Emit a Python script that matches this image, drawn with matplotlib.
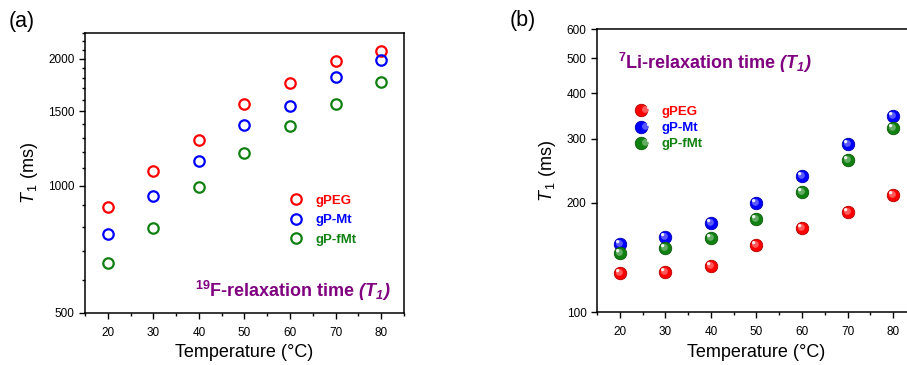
import numpy as np
import matplotlib
matplotlib.use("Agg")
import matplotlib.pyplot as plt
from matplotlib.path import Path
from matplotlib.ticker import FixedLocator, NullFormatter, NullLocator
from matplotlib.legend_handler import HandlerTuple

plt.rcParams['font.family'] = ['Liberation Sans', 'DejaVu Sans']
plt.rcParams['mathtext.fontset'] = 'custom'
plt.rcParams['mathtext.rm'] = 'Liberation Sans'
plt.rcParams['mathtext.it'] = 'Liberation Sans:italic'
plt.rcParams['mathtext.bf'] = 'Liberation Sans:bold'
plt.rcParams['mathtext.bfit'] = 'Liberation Sans:bold:italic'

# data
temp = [20, 30, 40, 50, 60, 70, 80]
series = ["gPEG", "gP-Mt", "gP-fMt"]
colors = ["#ff0000", "#0000ff", "#108010"]

# (a) 19F T1 (ms)
f_gpeg = [892, 1083, 1284, 1564, 1753, 1971, 2086]
f_gpmt = [769, 944, 1148, 1391, 1547, 1811, 1986]
f_gpfmt = [658, 793, 993, 1199, 1386, 1558, 1760]

# (b) 7Li T1 (ms)
li_gpeg = [128.5, 129.4, 134.4, 153.1, 170.6, 188.7, 210.2]
li_gpmt = [153.8, 161.1, 176.4, 199.8, 237.5, 290.3, 345.9]
li_gpfmt = [145.3, 150.0, 160.1, 180.6, 213.8, 261.8, 321.4]

purple = "#800080"


def circle_path(cx, cy, r):
    t = np.linspace(0, 2 * np.pi, 40)
    verts = np.column_stack([cx + r * np.cos(t), cy + r * np.sin(t)])
    return Path(verts, closed=True)


# highlight markers shifted toward upper-left (normalised by matplotlib)
mid_marker = circle_path(-0.12, 0.12, 0.38)
hi_marker = circle_path(-0.33, 0.33, 0.19)


def lighten(c, f):
    rgb = np.array(matplotlib.colors.to_rgb(c))
    return tuple(rgb + (1 - rgb) * f)


def darken(c, f):
    rgb = np.array(matplotlib.colors.to_rgb(c))
    return tuple(rgb * (1 - f))


def style_axes(ax):
    ax.set_yscale('log')
    ax.set_xlim(15, 85)
    ax.xaxis.set_major_locator(FixedLocator(temp))
    ax.xaxis.set_minor_locator(FixedLocator([15, 25, 35, 45, 55, 65, 75, 85]))
    ax.tick_params(which='both', direction='out', top=False, right=False,
                   labelsize=8.5, width=1)
    ax.tick_params(which='major', length=4)
    ax.tick_params(which='minor', length=2.5)
    ax.tick_params(axis='x', pad=6)
    for s in ax.spines.values():
        s.set_linewidth(1.1)
    ax.set_xlabel('Temperature (°C)', fontsize=13, labelpad=4)
    ax.set_ylabel(r'$\mathit{T}_{\,1}$ (ms)', fontsize=13, labelpad=6)


fig = plt.figure(figsize=(9.07, 3.65), dpi=100)

# ---- panel (a)
ax1 = fig.add_axes([0.0937, 0.1425, 0.3517, 0.767])
style_axes(ax1)
ax1.set_ylim(500, 2300)
ax1.yaxis.set_major_locator(FixedLocator([500, 1000, 1500, 2000]))
ax1.yaxis.set_minor_locator(FixedLocator(np.arange(600, 2400, 100)))
ax1.yaxis.set_major_formatter(matplotlib.ticker.FormatStrFormatter('%d'))
ax1.yaxis.set_minor_formatter(NullFormatter())

for vals, lab, c in zip([f_gpeg, f_gpmt, f_gpfmt], series, colors):
    ax1.plot(temp, vals, ls='none', marker='o', ms=7.5, mfc='none',
             mec=c, mew=1.6, label=lab)

leg1 = ax1.legend(loc='upper left', bbox_to_anchor=(0.6, 0.465), frameon=False,
                  prop={'weight': 'bold', 'size': 9.5},
                  handletextpad=0.9, labelspacing=0.55, handlelength=1.2)
for t, c in zip(leg1.get_texts(), colors):
    t.set_color(c)
ax1.text(0.96, 0.08,
         r'$^{\mathbf{19}}$F-relaxation time $\mathbfit{(T}_{\mathbfit{1}}\mathbfit{)}$',
         transform=ax1.transAxes, ha='right', va='center', color=purple,
         fontsize=13, fontweight='bold')
fig.text(0.01, 0.925, '(a)', fontsize=15.5)

# ---- panel (b)
ax2 = fig.add_axes([0.6582, 0.1444, 0.3516, 0.7753])
style_axes(ax2)
ax2.set_ylim(100, 600)
ax2.yaxis.set_major_locator(FixedLocator([100, 200, 300, 400, 500, 600]))
ax2.yaxis.set_minor_locator(NullLocator())
ax2.yaxis.set_major_formatter(matplotlib.ticker.FormatStrFormatter('%d'))
ax2.yaxis.set_minor_formatter(NullFormatter())

handles = []
for vals, lab, c in zip([li_gpeg, li_gpmt, li_gpfmt], series, colors):
    base, = ax2.plot(temp, vals, ls='none', marker='o', ms=9, mfc=c,
                     mec=darken(c, 0.3), mew=0.6, label=lab)
    mid, = ax2.plot(temp, vals, ls='none', marker=mid_marker, ms=6.5,
                    mfc=lighten(c, 0.35), mec='none')
    hi, = ax2.plot(temp, vals, ls='none', marker=hi_marker, ms=6.5,
                   mfc=(1, 1, 1, 0.9), mec='none')
    handles.append((base, mid, hi))

leg2 = ax2.legend(handles, series, loc='upper left', bbox_to_anchor=(0.092, 0.772),
                  frameon=False, prop={'weight': 'bold', 'size': 9.5},
                  handler_map={tuple: HandlerTuple(ndivide=None, pad=0)},
                  handletextpad=0.6, labelspacing=0.3, handlelength=1.2)
for t, c in zip(leg2.get_texts(), colors):
    t.set_color(c)
ax2.text(0.065, 0.88,
         r'$^{\mathbf{7}}$Li-relaxation time $\mathbfit{(T}_{\mathbfit{1}}\mathbfit{)}$',
         transform=ax2.transAxes, ha='left', va='center', color=purple,
         fontsize=13, fontweight='bold')
fig.text(0.562, 0.93, '(b)', fontsize=15.5)

fig.savefig('out.png', dpi=100)
